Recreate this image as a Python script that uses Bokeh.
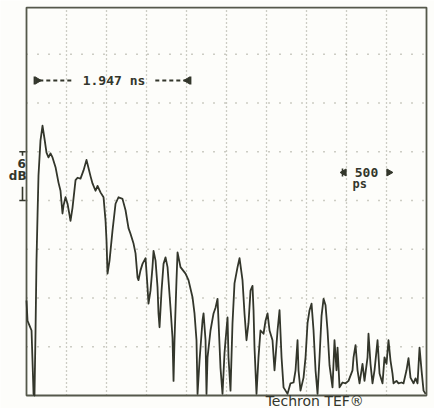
from bokeh.plotting import figure
from bokeh.embed import file_html
from bokeh.resources import INLINE
from bokeh.core.properties import value
import math

# Energy-time curve (time in ns, level in dB)
time_ns = [0.000, 0.013, 0.038, 0.063, 0.075, 0.088, 0.100, 0.113, 0.125, 0.138, 0.150, 0.175, 0.200, 0.225,
           0.250, 0.275, 0.300, 0.325, 0.363, 0.400, 0.425, 0.450, 0.463, 0.488, 0.513, 0.538, 0.550, 0.575,
           0.613, 0.638, 0.675, 0.713, 0.750, 0.775, 0.800, 0.825, 0.863, 0.888, 0.925, 0.963, 0.988, 1.000,
           1.013, 1.038, 1.075, 1.113, 1.150, 1.200, 1.238, 1.275, 1.300, 1.338, 1.363, 1.388, 1.400, 1.425,
           1.450, 1.488, 1.513, 1.525, 1.550, 1.575, 1.588, 1.613, 1.638, 1.650, 1.663, 1.688, 1.713, 1.738,
           1.763, 1.800, 1.825, 1.838, 1.850, 1.875, 1.888, 1.925, 1.988, 2.025, 2.075, 2.100, 2.125, 2.138,
           2.163, 2.200, 2.213, 2.238, 2.250, 2.263, 2.300, 2.338, 2.363, 2.388, 2.400, 2.425, 2.450, 2.475,
           2.488, 2.513, 2.525, 2.550, 2.575, 2.600, 2.638, 2.663, 2.700, 2.725, 2.750, 2.775, 2.800, 2.825,
           2.838, 2.850, 2.875, 2.900, 2.925, 2.963, 2.988, 3.013, 3.038, 3.075, 3.100, 3.113, 3.138, 3.163,
           3.188, 3.213, 3.263, 3.300, 3.338, 3.363, 3.388, 3.400, 3.425, 3.463, 3.488, 3.513, 3.538, 3.563,
           3.588, 3.613, 3.638, 3.663, 3.688, 3.713, 3.738, 3.763, 3.788, 3.825, 3.850, 3.875, 3.888, 3.913,
           3.950, 3.988, 4.025, 4.075, 4.088, 4.113, 4.138, 4.163, 4.200, 4.225, 4.263, 4.275, 4.300, 4.325,
           4.350, 4.375, 4.388, 4.413, 4.450, 4.475, 4.500, 4.525, 4.550, 4.575, 4.588, 4.625, 4.650, 4.688,
           4.713, 4.750, 4.775, 4.800, 4.838, 4.863, 4.888, 4.913, 4.938, 4.963, 4.988]
level_db = [-36.3, -38.8, -39.4, -40.0, -43.7, -47.8, -48.0, -40.0, -31.4, -25.8, -20.9, -16.6, -14.8, -16.4,
            -18.1, -18.7, -18.2, -18.7, -19.9, -21.8, -22.8, -25.6, -24.6, -23.6, -24.4, -25.8, -26.5, -24.9,
            -21.5, -21.2, -21.3, -20.3, -19.0, -20.0, -21.0, -21.9, -22.8, -22.2, -23.0, -23.6, -26.5, -28.9,
            -33.0, -31.4, -27.7, -24.4, -23.6, -23.8, -25.2, -27.4, -28.1, -29.3, -30.5, -33.5, -33.8, -32.6,
            -31.8, -31.1, -34.7, -36.7, -35.1, -32.2, -30.2, -31.4, -34.7, -37.9, -39.6, -35.1, -31.8, -31.0,
            -32.2, -37.2, -40.9, -46.2, -41.2, -33.8, -30.4, -32.2, -33.0, -33.8, -35.9, -37.9, -41.2, -47.8,
            -43.7, -38.8, -37.9, -41.2, -47.8, -43.3, -40.0, -37.9, -37.2, -36.1, -38.8, -44.6, -47.8, -42.8,
            -41.2, -38.4, -43.3, -47.4, -39.1, -34.2, -32.2, -31.1, -33.8, -37.9, -41.2, -39.1, -35.1, -34.5,
            -37.5, -42.1, -47.8, -43.3, -40.0, -40.4, -38.8, -37.9, -40.0, -41.2, -44.9, -43.3, -40.0, -37.5,
            -43.3, -47.0, -47.8, -46.5, -46.4, -44.9, -41.2, -44.9, -47.4, -45.8, -43.3, -39.1, -37.5, -36.7,
            -40.0, -44.9, -47.8, -43.3, -38.2, -36.1, -36.9, -40.0, -44.3, -47.0, -41.2, -44.9, -42.1, -47.0,
            -46.4, -46.5, -46.2, -44.9, -43.3, -41.8, -44.9, -46.5, -44.1, -46.2, -43.3, -40.4, -44.1, -46.5,
            -44.9, -42.5, -41.2, -45.3, -46.5, -43.3, -44.1, -41.2, -43.7, -45.3, -46.5, -46.2, -46.5, -46.4,
            -46.5, -44.9, -43.4, -45.8, -46.5, -45.9, -46.5, -42.1, -44.9, -47.4, -47.8]

# Screen scale: 10 divisions of 500 ps, 8 divisions of 6 dB
t_divs = [0.5, 1.0, 1.5, 2.0, 2.5, 3.0, 3.5, 4.0, 4.5]
db_divs = [-6, -12, -18, -24, -30, -36, -42]
t_min, t_max = 0.0, 5.0
db_top, db_bottom = -0.25, -48.0

span_label = "1.947 ns"
span_start, span_end = 0.10, 2.05
cursor_label = "500"
cursor_unit = "ps"
scale_label = "6"
scale_unit = "dB"
brand = "Techron TEF\u00ae"

ink = "#33362b"
dot = "#9c9c8e"

p = figure(width=434, height=408, output_backend="svg", toolbar_location=None,
           x_range=(-0.325, 5.1), y_range=(-49.6, 0.615),
           x_axis_location=None, y_axis_location=None,
           min_border_left=0, min_border_right=0, min_border_top=0, min_border_bottom=0)
p.grid.visible = False
p.outline_line_color = None
p.background_fill_color = "#fdfdfa"
p.border_fill_color = "#fdfdfa"

# dotted graticule
p.segment(x0=t_divs, y0=[db_bottom] * len(t_divs), x1=t_divs, y1=[db_top] * len(t_divs),
          line_color=dot, line_width=1.3, line_dash="1 3")
p.segment(x0=[t_min] * len(db_divs), y0=db_divs, x1=[t_max] * len(db_divs), y1=db_divs,
          line_color=dot, line_width=1.6, line_dash="1 10")

# screen frame
p.quad(left=[t_min], right=[t_max], bottom=[db_bottom], top=[db_top],
       fill_color=None, line_color="#55584b", line_width=1.8)

# trace
p.line(time_ns, level_db, line_color=ink, line_width=1.8, line_join="round")

mono = value("DejaVu Sans Mono")

# 1.947 ns span marker
span_y = -9.23
p.segment(x0=[span_start, span_end], y0=[span_y - 0.5, span_y - 0.5],
          x1=[span_start, span_end], y1=[span_y + 0.5, span_y + 0.5], line_color=ink, line_width=1.8)
p.scatter(x=[span_start + 0.035], y=[span_y], marker="triangle", size=7, angle=-math.pi / 2,
          fill_color=ink, line_color=ink)
p.scatter(x=[span_end - 0.035], y=[span_y], marker="triangle", size=7, angle=math.pi / 2,
          fill_color=ink, line_color=ink)
p.segment(x0=[span_start + 0.06, 1.61], y0=[span_y, span_y], x1=[0.58, span_end - 0.06], y1=[span_y, span_y],
          line_color=ink, line_width=1.8, line_dash="4 3")
p.text(x=[1.094], y=[span_y], text=[span_label], text_font=mono, text_font_style="bold",
       text_font_size="13px", text_align="center", text_baseline="middle", text_color=ink)

# 500 ps cursor marker
cur_y = -20.55
p.segment(x0=[3.95], y0=[cur_y - 0.5], x1=[3.95], y1=[cur_y + 0.5], line_color=ink, line_width=1.6)
p.scatter(x=[3.97, 4.53], y=[cur_y, cur_y], marker="triangle", size=7,
          angle=[math.pi / 2, -math.pi / 2], fill_color=ink, line_color=ink)
p.text(x=[4.25], y=[cur_y], text=[cursor_label], text_font=mono, text_font_style="bold",
       text_font_size="13px", text_align="center", text_baseline="middle", text_color=ink)
p.text(x=[4.165], y=[-22.0], text=[cursor_unit], text_font=mono, text_font_style="bold",
       text_font_size="12px", text_align="center", text_baseline="middle", text_color=ink)

# 6 dB scale marker
p.segment(x0=[-0.05, -0.05, -0.09, -0.09], y0=[-18.0, -22.3, -18.0, -24.0],
          x1=[-0.05, -0.05, -0.01, -0.01], y1=[-18.5, -24.0, -18.0, -24.0], line_color=ink, line_width=1.6)
p.text(x=[-0.06], y=[-19.45], text=[scale_label], text_font=value("DejaVu Sans"), text_font_style="bold",
       text_font_size="12px", text_align="center", text_baseline="middle", text_color=ink)
p.text(x=[-0.11], y=[-21.0], text=[scale_unit], text_font=value("DejaVu Sans"), text_font_style="bold",
       text_font_size="12px", text_align="center", text_baseline="middle", text_color=ink)

# brand under the screen
p.text(x=[2.99], y=[-47.7], text=[brand], text_font=value("DejaVu Sans"),
       text_font_size="14px", text_align="left", text_baseline="top", text_color=ink)

open("out.html", "w").write(file_html(p, INLINE))
